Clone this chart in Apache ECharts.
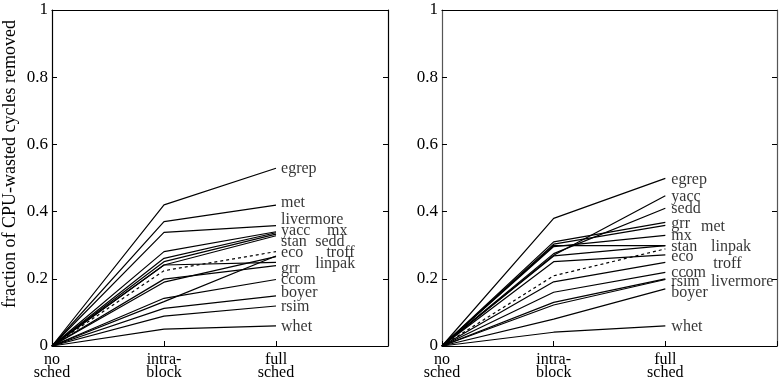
<!DOCTYPE html>
<html><head><meta charset="utf-8">
<script src="https://cdn.jsdelivr.net/npm/echarts@6/dist/echarts.min.js"></script>
<style>html,body{margin:0;padding:0;background:#fff}#c{width:784px;height:386px}</style>
</head><body><div id="c"></div>
<script>
// ---- data ----
const categories = ['no\nsched', 'intra-\nblock', 'full\nsched'];
const yTicks = [0, 0.2, 0.4, 0.6, 0.8, 1];

// left panel
const leftNames  = ['egrep','met','livermore','yacc','mx','stan','sedd','eco','troff','linpak','grr','ccom','boyer','rsim','whet','average'];
const leftNoSched= [0,0,0,0,0,0,0,0,0,0,0,0,0,0,0,0];
const leftIntra  = [0.42,0.37,0.338,0.281,0.261,0.251,0.241,0.132,0.19,0.241,0.199,0.142,0.112,0.089,0.05,0.224];
const leftFull   = [0.529,0.419,0.358,0.34,0.337,0.333,0.328,0.268,0.266,0.249,0.239,0.198,0.149,0.119,0.06,0.281];
const leftLabelX = [2.045,2.045,2.045,2.045,2.455,2.045,2.35,2.045,2.45,2.35,2.045,2.045,2.045,2.045,2.045];
const leftLabelY = [0.527,0.427,0.377,0.342,0.342,0.311,0.311,0.276,0.276,0.246,0.231,0.196,0.157,0.117,0.057];

// right panel
const rightNames  = ['egrep','yacc','sedd','grr','met','mx','stan','linpak','eco','troff','ccom','rsim','livermore','boyer','whet','average'];
const rightNoSched= [0,0,0,0,0,0,0,0,0,0,0,0,0,0,0,0];
const rightIntra  = [0.38,0.27,0.275,0.31,0.303,0.296,0.268,0.299,0.251,0.191,0.16,0.13,0.122,0.08,0.041,0.209];
const rightFull   = [0.499,0.447,0.41,0.368,0.359,0.329,0.299,0.299,0.271,0.249,0.219,0.2,0.198,0.17,0.06,0.289];
const rightLabelX = [2.054,2.054,2.054,2.054,2.32,2.054,2.054,2.41,2.054,2.43,2.054,2.054,2.41,2.054,2.054];
const rightLabelY = [0.494,0.444,0.407,0.363,0.355,0.327,0.296,0.296,0.266,0.246,0.219,0.19,0.19,0.157,0.056];

// ---- chart ----
const FONT = '"Liberation Serif", "DejaVu Serif", serif';
const chart = echarts.init(document.getElementById('c'), null, {renderer:'canvas'});

const grids = [
  {left:52, top:10, width:336, height:336},
  {left:442, top:10, width:335, height:336}
];
const xAxes = [], yAxes = [];
grids.forEach((g, i) => {
  xAxes.push({
    type:'value', gridIndex:i, min:0, max:3, interval:1, position:'bottom',
    axisLine:{show:true, onZero:false, lineStyle:{color:'#000', width:1.2}},
    axisTick:{show:true, inside:true, length:5, lineStyle:{color:'#000'}},
    splitLine:{show:false},
    axisLabel:{
      show:true, margin:7, color:'#000', fontFamily:FONT, fontSize:16, lineHeight:13,
      formatter: v => (v < categories.length ? categories[v] : '')
    }
  });
  xAxes.push({
    type:'value', gridIndex:i, min:0, max:3, interval:1, position:'top',
    axisLine:{show:true, onZero:false, lineStyle:{color:'#000', width:1.2}},
    axisTick:{show:false}, axisLabel:{show:false}, splitLine:{show:false}
  });
  yAxes.push({
    type:'value', gridIndex:i, min:0, max:1, interval:0.2, position:'left',
    axisLine:{show:true, onZero:false, lineStyle:{color: i===0 ? '#000' : '#555', width:1.2}},
    axisTick:{show:true, inside:true, length:5, lineStyle:{color:'#000'}},
    splitLine:{show:false},
    axisLabel:{show:true, margin:4, color:'#000', fontFamily:FONT, fontSize:17,
      formatter: v => String(+v.toFixed(1))}
  });
  yAxes.push({
    type:'value', gridIndex:i, min:0, max:1, interval:0.2, position:'right',
    axisLine:{show:true, onZero:false, lineStyle:{color: i===0 ? '#000' : '#555', width:1.2}},
    axisTick:{show:true, inside:true, length:5, lineStyle:{color:'#000'}},
    axisLabel:{show:false}, splitLine:{show:false}
  });
});

const series = [];
function addPanel(p, names, noSched, intra, full, lx, ly) {
  names.forEach((n, k) => {
    series.push({
      type:'line', name:n, xAxisIndex:p*2, yAxisIndex:p*2,
      data:[[0,noSched[k]],[1,intra[k]],[2,full[k]]],
      symbol:'none', silent:true,
      lineStyle:{color:'#000', width:1.2, type: n==='average' ? [3,3] : 'solid'}
    });
  });
  series.push({
    type:'scatter', xAxisIndex:p*2, yAxisIndex:p*2, symbolSize:0, silent:true,
    data: lx.map((x, k) => ({value:[x, ly[k]], name:names[k]})),
    label:{show:true, position:'right', distance:0, color:'#000', fontFamily:FONT, fontSize:16,
      formatter: d => d.name}
  });
}
addPanel(0, leftNames, leftNoSched, leftIntra, leftFull, leftLabelX, leftLabelY);
addPanel(1, rightNames, rightNoSched, rightIntra, rightFull, rightLabelX, rightLabelY);

chart.setOption({
  animation:false,
  backgroundColor:'#fff',
  grid:grids, xAxis:xAxes, yAxis:yAxes, series:series,
  graphic:[{
    type:'text', x:10, y:164, rotation:Math.PI/2,
    style:{text:'fraction of CPU-wasted cycles removed', fill:'#000', font:'18px ' + FONT,
      textAlign:'center', textVerticalAlign:'middle'}
  }]
});
</script></body></html>
